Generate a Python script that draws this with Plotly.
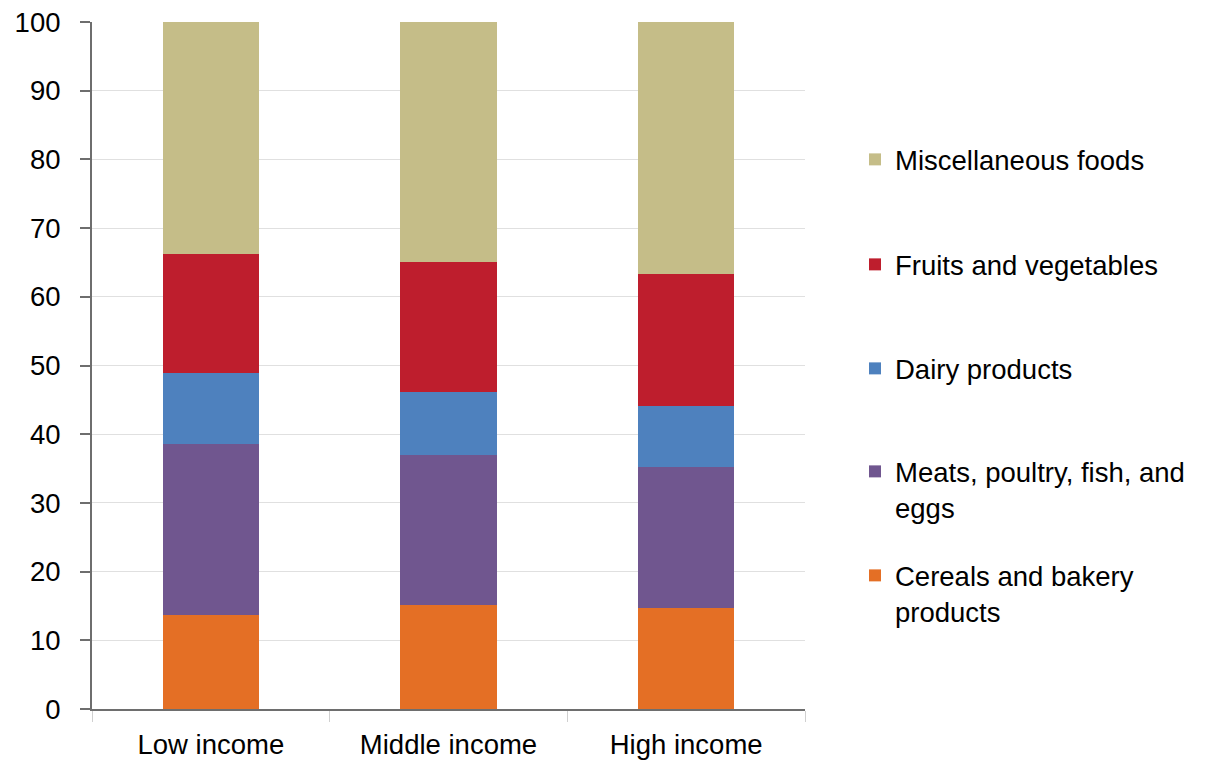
import plotly.graph_objects as go

categories = ["Low income", "Middle income", "High income"]
cereals = [13.7, 15.1, 14.7]
meats = [24.9, 21.9, 20.5]
dairy = [10.3, 9.1, 8.9]
fruits = [17.4, 18.9, 19.2]
misc = [33.7, 35.0, 36.7]

series_names = ["Cereals and bakery<br>products", "Meats, poultry, fish, and<br>eggs",
                "Dairy products", "Fruits and vegetables", "Miscellaneous foods"]
series_values = [cereals, meats, dairy, fruits, misc]
colors = ["#E46F25", "#70568F", "#4E81BE", "#BE1E2D", "#C5BD88"]
y_ticks = list(range(0, 101, 10))

W, H = 1207, 762
L, R, T, B = 92, 402, 22, 53
pw, ph = W - L - R, H - T - B

def px_to_paper_x(px):
    return (px - L) / pw

def px_to_paper_y(py):
    return (H - B - py) / ph

fig = go.Figure()
legend_ids = ["legend5", "legend4", "legend3", "legend2", "legend"]
legend_tops = [576, 472, 369, 265, 160]
font = dict(family="Liberation Sans, Arial, Helvetica, sans-serif", size=27.5, color="#000000")

for name, vals, col, lid in zip(series_names, series_values, colors, legend_ids):
    fig.add_trace(go.Bar(
        x=categories, y=vals, name=name, marker=dict(color=col, line=dict(width=0)),
        legend=lid,
    ))

layout_legends = {}
for lid, ytop in zip(legend_ids, legend_tops):
    layout_legends[lid] = dict(
        x=px_to_paper_x(855), xanchor="left",
        y=px_to_paper_y(ytop - 25), yanchor="top",
        font=font, valign="top", bgcolor="rgba(0,0,0,0)", borderwidth=0,
    )

fig.update_layout(
    width=W, height=H,
    margin=dict(l=L, r=R, t=T, b=B, pad=0, autoexpand=False),
    barmode="stack", bargap=0.596,
    plot_bgcolor="white", paper_bgcolor="white",
    font=font,
    showlegend=True,
    xaxis=dict(
        showline=True, linecolor="#6e6e6e", linewidth=2, automargin=False,
        ticks="outside", tickson="boundaries", ticklen=11, tickcolor="#d0d0d0", tickwidth=1,
        showgrid=False, tickfont=font, ticklabelstandoff=10,
    ),
    yaxis=dict(
        range=[0, 100], tickvals=y_ticks, showline=True, linecolor="#6e6e6e", linewidth=2,
        automargin=False,
        ticks="outside", ticklen=10, tickcolor="#6e6e6e", tickwidth=2,
        showgrid=True, gridcolor="#e0e0e0", gridwidth=1, zeroline=False,
        tickfont=font, ticklabelstandoff=14,
    ),
    **layout_legends,
)

fig.write_html("out.html")
